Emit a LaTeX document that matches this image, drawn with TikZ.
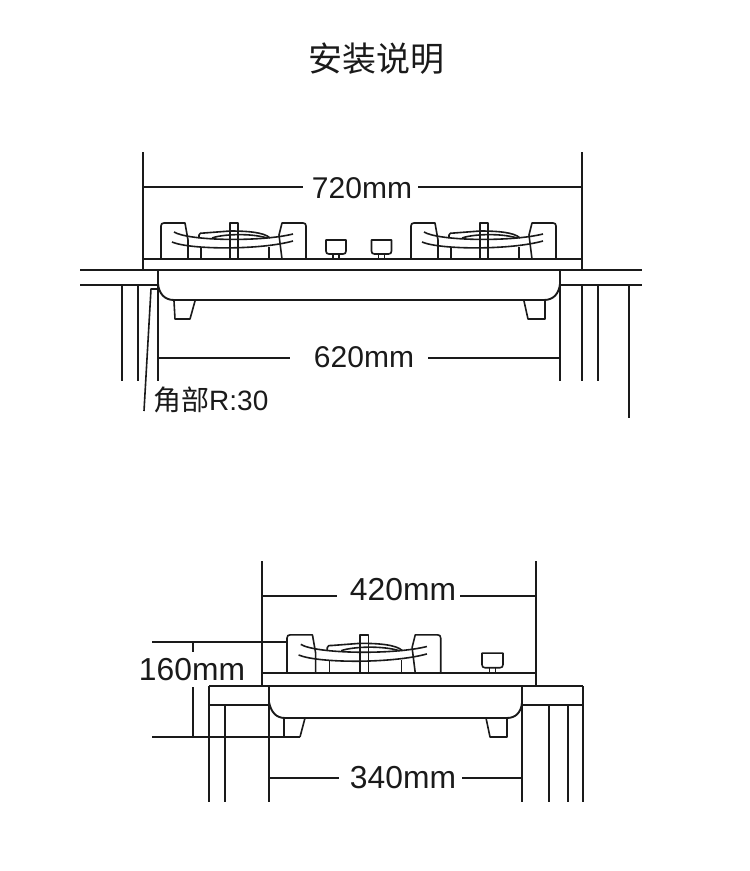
\documentclass[tikz,border=0pt]{standalone}
\usepackage{fontspec}
\setmainfont{Liberation Sans}
\newfontfamily\cjk{Noto Sans CJK SC}
\definecolor{ink}{HTML}{1A1A1A}
\tikzset{
  ln/.style={draw=ink,line width=1.9pt,line cap=butt,line join=round},
  thin ln/.style={draw=ink,line width=1.6pt,line join=round},
  dimtext/.style={text=ink,font=\fontsize{30}{32}\selectfont,inner sep=0pt},
  dimtextb/.style={text=ink,font=\fontsize{31.8}{34}\selectfont,inner sep=0pt},
  burner/.pic={
    \draw[thin ln] (0,0) -- (0,-33) .. controls (0,-35) and (1,-36) .. (3,-36) -- (24,-36) -- (27,-19) -- (27,0);
    \draw[thin ln] (145,0) -- (145,-33) .. controls (145,-35) and (144,-36) .. (142,-36) -- (121,-36) -- (118,-24) -- (121,0);
    \draw[ln] (0,0) -- (27,0) (121,0) -- (145,0);
    \draw[thin ln] (40,-12) -- (40,0) (108,-12) -- (108,0);
    \draw[thin ln] (69,-36) rectangle (77,0);
    \draw[thin ln] (13,-27) .. controls (28,-18) and (100,-17) .. (132,-25);
    \draw[thin ln] (11,-17) .. controls (30,-9) and (100,-9) .. (132,-18);
    \draw[thin ln] (38,-21) -- (38,-24) .. controls (38,-26) and (40,-26) .. (43,-26) -- (69,-28) .. controls (85,-28) and (103,-27) .. (109,-21);
    \draw[thin ln] (51,-21) .. controls (62,-25) and (90,-26) .. (106,-21);
  },
  knob/.pic={
    \draw[thin ln] (-10,-19) -- (10,-19) -- (10,-8) .. controls (10,-6) and (9,-5) .. (7,-5) -- (-7,-5) .. controls (-9,-5) and (-10,-6) .. (-10,-8) -- cycle;
    \draw[thin ln] (-3,-5) -- (-3,0) (3,-5) -- (3,0);
  }
}
\begin{document}
\begin{tikzpicture}[x=1pt,y=-1pt]
\useasboundingbox (0,0) rectangle (750,871);
\node[text=ink,font=\cjk\fontsize{34}{36}\selectfont,inner sep=0pt] (title) at (376.5,59) {安装说明};

% upper view
\coordinate (a1) at (143,152); \coordinate (a2) at (143,270);
\coordinate (b1) at (582,152); \coordinate (b2) at (582,381);
\draw[ln] (a1) -- (a2) (b1) -- (582,270);
\node[dimtext] (d720) at (362,188) {720mm};
\draw[ln] (143,187) -- (303,187) (418,187) -- (582,187);
\draw[ln] (143,259) -- (582,259);
\draw[ln] (80,270) -- (642,270);
\draw[ln] (80,285) -- (157,285) (560,285) -- (642,285);
\draw[ln] (158,270) -- (158,381) (560,270) -- (560,381);
\draw[ln] (158,284) .. controls (159,293) and (164,300) .. (174,300) -- (544,300) .. controls (554,300) and (559,293) .. (560,284);
\draw[ln] (122,285) -- (122,381) (138,285) -- (138,381);
\draw[ln] (582,285) -- (582,381) (598,285) -- (598,381);
\draw[ln] (629,285) -- (629,418);
\draw[thin ln] (174,301) -- (175,319) -- (190,319) -- (195,301);
\draw[thin ln] (524,301) -- (528,319) -- (545,319) -- (545,301);
\draw[thin ln] (158,289) -- (151,289) -- (144,411);
\node[dimtext] (d620) at (364,357) {620mm};
\draw[ln] (158,358) -- (290,358) (428,358) -- (560,358);
\node[anchor=west,text=ink,font=\fontsize{28}{30}\selectfont,inner sep=0pt] (corner) at (153,400) {{\cjk 角部}R:30};
\pic at (161,259) {burner};
\pic at (411,259) {burner};
\pic at (336,259) {knob};
\pic at (381.5,259) {knob};

% lower view
\draw[ln] (262,561) -- (262,686) (536,561) -- (536,686);
\node[dimtextb] (d420) at (403,590) {420mm};
\draw[ln] (262,596) -- (337,596) (460,596) -- (536,596);
\draw[ln] (262,673) -- (536,673);
\draw[ln] (209,686) -- (583,686);
\draw[ln] (209,705) -- (269,705) (522,705) -- (583,705);
\draw[ln] (209,686) -- (209,802) (225,705) -- (225,802) (269,686) -- (269,802);
\draw[ln] (522,686) -- (522,802) (549,705) -- (549,802) (568,705) -- (568,802) (583,686) -- (583,802);
\draw[ln] (269,702) .. controls (271,712) and (276,718) .. (285,718) -- (507,718) .. controls (516,718) and (521,712) .. (522,703);
\draw[thin ln] (284,718) -- (284,737);
\draw[thin ln] (300,737) -- (305,718);
\draw[thin ln] (486,718) -- (490,737) -- (507,737) -- (507,718);
\draw[ln] (152,642) -- (287,642);
\draw[ln] (152,737) -- (300,737);
\node[dimtextb] (d160) at (192,670) {160mm};
\draw[ln] (193,642) -- (193,652) (193,687) -- (193,737);
\node[dimtextb] (d340) at (403,778) {340mm};
\draw[ln] (269,778) -- (339,778) (462,778) -- (522,778);
\pic[scale=1.06] at (287,673) {burner};
\pic[scale=1.05] at (492.5,673) {knob};
\end{tikzpicture}
\end{document}
